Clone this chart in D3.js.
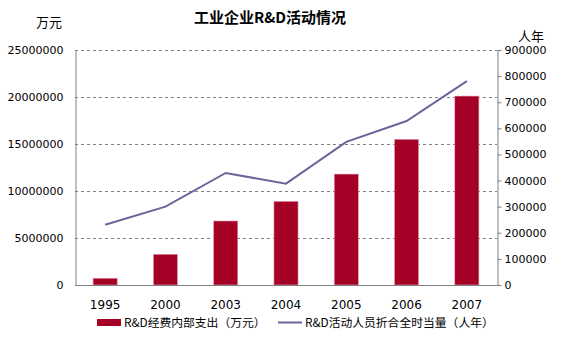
<!DOCTYPE html>
<html><head><meta charset="utf-8">
<script src="https://cdn.jsdelivr.net/npm/d3@7"></script>
<style>body{margin:0;background:#fff}svg{display:block}text{font-family:"Noto Sans CJK SC","DejaVu Sans",sans-serif;fill:#000}</style>
</head><body><svg id="c" width="569" height="344"></svg>
<script>
const categories = ["1995","2000","2003","2004","2005","2006","2007"];
const expenditure = [720000, 3270000, 6810000, 8900000, 11800000, 15500000, 20100000];
const personnel = [231000, 300000, 429000, 388000, 548000, 628000, 781000];
const leftTicks = [0, 5000000, 10000000, 15000000, 20000000, 25000000];
const rightTicks = [0,100000,200000,300000,400000,500000,600000,700000,800000,900000];
const title = "工业企业R&D活动情况";
const leftUnit = "万元", rightUnit = "人年";
const seriesNames = ["R&D经费内部支出（万元）", "R&D活动人员折合全时当量（人年）"];

const svg = d3.select("#c");
const L = 75, R = 497, T = 50, B = 285;
const x = d3.scaleBand().domain(categories).range([L, R]).paddingInner(0.6).paddingOuter(0.3);
const yL = d3.scaleLinear().domain([0, 25000000]).range([B, T]);
const yR = d3.scaleLinear().domain([0, 900000]).range([B, T]);

// gridlines
svg.append("g").selectAll("line").data(leftTicks.filter(d => d > 0)).join("line")
  .attr("x1", L).attr("x2", R).attr("y1", d => yL(d) + 0.5).attr("y2", d => yL(d) + 0.5)
  .attr("stroke", "#808080").attr("stroke-dasharray", "3,3");

// bars
svg.append("g").selectAll("rect").data(expenditure).join("rect")
  .attr("x", (d, i) => x(categories[i])).attr("width", x.bandwidth())
  .attr("y", d => yL(d)).attr("height", d => B - yL(d))
  .attr("fill", "#A50026").attr("stroke", "#E8A0B0").attr("stroke-width", 0.6);

// line
const line = d3.line().x((d, i) => x(categories[i]) + x.bandwidth() / 2).y(d => yR(d));
svg.append("path").datum(personnel).attr("d", line).attr("fill", "none")
  .attr("stroke", "#6A6699").attr("stroke-width", 2);

// left axis
const gl = svg.append("g").attr("transform", `translate(${L + 0.5},0)`)
  .call(d3.axisLeft(yL).tickValues(leftTicks).tickSize(0).tickPadding(12).tickFormat(d3.format("d")));
gl.select(".domain").attr("stroke", "#808080");
gl.selectAll("text").style("font-family", "'DejaVu Sans',sans-serif").style("font-size", "11px");

// right axis
const gr = svg.append("g").attr("transform", `translate(${R + 0.5},0)`)
  .call(d3.axisRight(yR).tickValues(rightTicks).tickSize(4).tickSizeOuter(0).tickPadding(3).tickFormat(d3.format("d")));
gr.select(".domain").attr("stroke", "#808080");
gr.selectAll(".tick line").attr("stroke", "#808080");
gr.selectAll("text").style("font-family", "'DejaVu Sans',sans-serif").style("font-size", "11px");

// bottom axis line
svg.append("line").attr("x1", L).attr("x2", R + 4).attr("y1", B + 0.5).attr("y2", B + 0.5).attr("stroke", "#808080");

// x labels
svg.append("g").selectAll("text").data(categories).join("text")
  .attr("x", d => x(d) + x.bandwidth() / 2).attr("y", 309).attr("text-anchor", "middle")
  .style("font-family", "'DejaVu Sans',sans-serif").style("font-size", "12px").text(d => d);

// title & units
svg.append("text").attr("x", 270).attr("y", 23).attr("text-anchor", "middle")
  .style("font-size", "15px").style("font-weight", "bold").text(title);
svg.append("text").attr("x", 49).attr("y", 27).attr("text-anchor", "middle").style("font-size", "13px").text(leftUnit);
svg.append("text").attr("x", 531).attr("y", 41).attr("text-anchor", "middle").style("font-size", "13px").text(rightUnit);

// legend
svg.append("rect").attr("x", 97).attr("y", 319).attr("width", 24).attr("height", 7).attr("fill", "#A50026");
svg.append("text").attr("x", 124).attr("y", 327).style("font-size", "11.8px").text(seriesNames[0]);
svg.append("line").attr("x1", 278).attr("x2", 302).attr("y1", 322.5).attr("y2", 322.5).attr("stroke", "#6A6699").attr("stroke-width", 2);
svg.append("text").attr("x", 305).attr("y", 327).style("font-size", "11.8px").text(seriesNames[1]);
</script></body></html>
